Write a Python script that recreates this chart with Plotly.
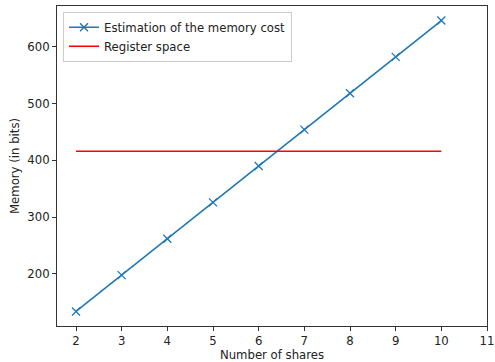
import plotly.graph_objects as go

shares = [2, 3, 4, 5, 6, 7, 8, 9, 10]
memory_cost = [134, 198, 262, 326, 390, 454, 518, 582, 646]
register_x = [2, 10]
register_space = [416, 416]

FS = 11.7

fig = go.Figure()
fig.add_trace(go.Scatter(
    x=shares, y=memory_cost, mode="lines+markers",
    name="Estimation of the memory cost",
    line=dict(color="#1f77b4", width=1.6),
    marker=dict(symbol="x-thin", size=8, line=dict(color="#1f77b4", width=1.3)),
))
fig.add_trace(go.Scatter(
    x=register_x, y=register_space, mode="lines",
    name="Register space",
    line=dict(color="red", width=1.6),
))

axis_common = dict(
    showline=True, linecolor="#333", linewidth=1, mirror=True,
    ticks="outside", ticklen=4, tickcolor="#333", showgrid=False, zeroline=False,
    tickfont=dict(family="DejaVu Sans", size=FS, color="#222"),
    automargin=False,
)
fig.update_layout(
    width=495, height=362,
    margin=dict(l=57, r=8, t=6, b=36, autoexpand=False),
    paper_bgcolor="white", plot_bgcolor="white",
    font=dict(family="DejaVu Sans", size=FS, color="#222"),
    xaxis=dict(range=[1.584, 11], tickvals=[2, 3, 4, 5, 6, 7, 8, 9, 10, 11],
               title=dict(text="Number of shares", standoff=1, font=dict(size=FS)), **axis_common),
    yaxis=dict(range=[108.4, 671.6], tickvals=[200, 300, 400, 500, 600],
               title=dict(text="Memory (in bits)", standoff=5, font=dict(size=FS)), **axis_common),
    legend=dict(x=0.014, y=0.982, xanchor="left", yanchor="top",
                bgcolor="rgba(255,255,255,0.8)", bordercolor="#ccc", borderwidth=1,
                font=dict(size=FS), tracegroupgap=0, itemwidth=30),
    showlegend=True,
)
fig.write_html("out.html", post_script="document.body.style.margin='0';",
               config={"displayModeBar": False})
